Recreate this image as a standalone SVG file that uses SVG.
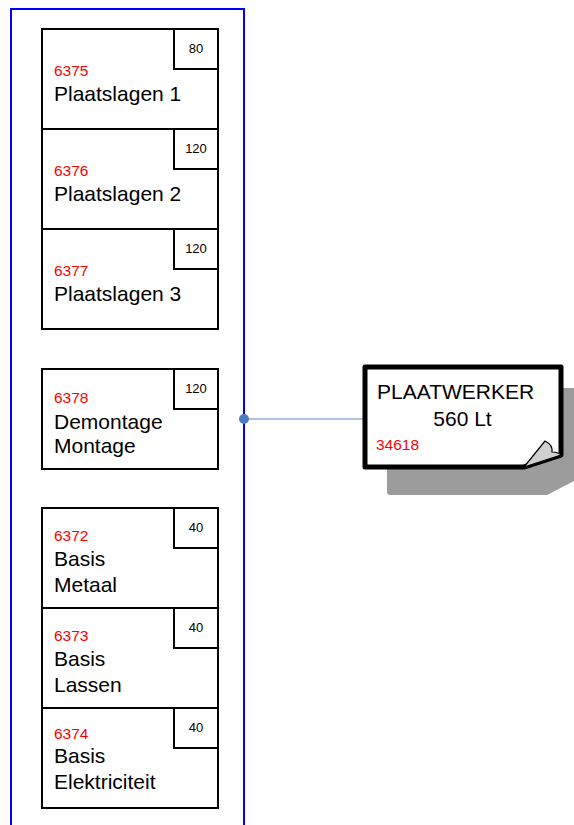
<svg xmlns="http://www.w3.org/2000/svg" width="574" height="825" viewBox="0 0 574 825">
<style>
.box{fill:#fff;stroke:#000;stroke-width:2}
.badge{fill:#fff;stroke:#000;stroke-width:2}
.num{font-family:"Liberation Sans",Arial,sans-serif;font-size:15.5px;fill:#ff0000}
.lbl{font-family:"Liberation Sans",Arial,sans-serif;font-size:21px;fill:#000}
.bt{font-family:"Liberation Sans",Arial,sans-serif;font-size:13px;fill:#000;text-anchor:middle}
</style>
<rect x="0" y="0" width="574" height="825" fill="#fff"/>
<rect id="lane" x="11" y="9" width="233" height="830" fill="none" stroke="#0000ff" stroke-width="2"/>
<g id="n6375"><rect class="box" x="42" y="29" width="176" height="100"/><rect class="badge" x="174" y="29" width="44" height="40"/><text class="bt" x="196" y="53">80</text><text class="num" x="54" y="76">6375</text><text class="lbl" x="54" y="101">Plaatslagen 1</text></g>
<g id="n6376"><rect class="box" x="42" y="129" width="176" height="100"/><rect class="badge" x="174" y="129" width="44" height="40"/><text class="bt" x="196" y="153">120</text><text class="num" x="54" y="176">6376</text><text class="lbl" x="54" y="201">Plaatslagen 2</text></g>
<g id="n6377"><rect class="box" x="42" y="229" width="176" height="100"/><rect class="badge" x="174" y="229" width="44" height="40"/><text class="bt" x="196" y="253">120</text><text class="num" x="54" y="276">6377</text><text class="lbl" x="54" y="301">Plaatslagen 3</text></g>
<g id="n6378"><rect class="box" x="42" y="369" width="176" height="100"/><rect class="badge" x="174" y="369" width="44" height="40"/><text class="bt" x="196" y="393">120</text><text class="num" x="54" y="403">6378</text><text class="lbl" x="54" y="429">Demontage</text><text class="lbl" x="54" y="453">Montage</text></g>
<g id="n6372"><rect class="box" x="42" y="508" width="176" height="100"/><rect class="badge" x="174" y="508" width="44" height="40"/><text class="bt" x="196" y="532">40</text><text class="num" x="54" y="541">6372</text><text class="lbl" x="54" y="566">Basis</text><text class="lbl" x="54" y="592">Metaal</text></g>
<g id="n6373"><rect class="box" x="42" y="608" width="176" height="100"/><rect class="badge" x="174" y="608" width="44" height="40"/><text class="bt" x="196" y="632">40</text><text class="num" x="54" y="641">6373</text><text class="lbl" x="54" y="666">Basis</text><text class="lbl" x="54" y="692">Lassen</text></g>
<g id="n6374"><rect class="box" x="42" y="708" width="176" height="100"/><rect class="badge" x="174" y="708" width="44" height="40"/><text class="bt" x="196" y="732">40</text><text class="num" x="54" y="739">6374</text><text class="lbl" x="54" y="763">Basis</text><text class="lbl" x="54" y="789">Elektriciteit</text></g>
<g id="connectors">
<line x1="244" y1="419" x2="364" y2="419" stroke="#5f8ac6" stroke-width="1.2"/>
<circle cx="244" cy="419" r="5" fill="#4a7cc0"/>
</g>
<g id="note">
<path d="M387,388 H580 V478 L547,495 H390 Q387,495 387,492 Z" fill="#9c9c9c"/>
<path d="M365,367 H561 V455 L524,467 H365 Z" fill="#fff" stroke="#000" stroke-width="5" stroke-linejoin="round"/>
<path d="M524,467 L545,441 Q553,445 552,452 Q558,452 561,455 Z" fill="#d0d0d0" stroke="#000" stroke-width="1.2" stroke-linejoin="round"/>
<text class="lbl" x="377" y="399">PLAATWERKER</text>
<text class="lbl" x="462.5" y="426" text-anchor="middle">560 Lt</text>
<text class="num" x="376" y="450">34618</text>
</g>
</svg>
